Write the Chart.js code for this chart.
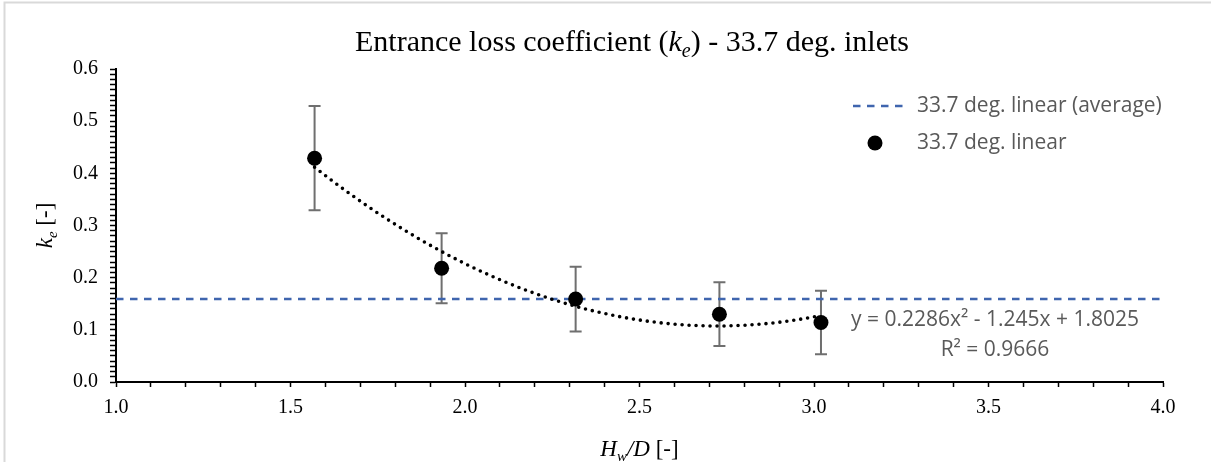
<!DOCTYPE html>
<html><head><meta charset="utf-8">
<script src="https://cdn.jsdelivr.net/npm/chart.js@4.4.1/dist/chart.umd.min.js"></script>
<style>html,body{margin:0;padding:0;background:#fff;}canvas{display:block}</style>
</head><body>
<canvas id="c" width="1211" height="462"></canvas>
<script>
// ---- data ----
const hwD   = [1.569, 1.933, 2.317, 2.729, 3.020];     // H_w/D
const ke    = [0.429, 0.218, 0.159, 0.130, 0.114];     // k_e
const keErr = [0.100, 0.067, 0.062, 0.061, 0.061];     // +/- error
const avgKe = 0.159;                                   // average line value
const avgX  = [1.0, 4.0];                              // span of average line
const fitCoef = [0.2286, -1.245, 1.8025];              // trendline y = a x^2 + b x + c (as printed)
const fitR2 = '0.9666';
const xLabelTicks = [1.0, 1.5, 2.0, 2.5, 3.0, 3.5, 4.0];
const yLabelTicks = [0.0, 0.1, 0.2, 0.3, 0.4, 0.5, 0.6];
const seriesAvgLabel = '33.7 deg. linear (average)';
const seriesLabel = '33.7 deg. linear';

const SERIF = "'Liberation Serif','Times New Roman',serif";
const SANS = "'Open Sans','Noto Sans',sans-serif";
const GREY_TXT = '#595959';

// trendline from the printed equation, over the data range
const fitPts = [];
{
  const n = 60, x0 = hwD[0], x1 = hwD[hwD.length - 1];
  for (let i = 0; i <= n; i++) {
    const x = x0 + (x1 - x0) * i / n;
    fitPts.push({x, y: fitCoef[0] * x * x + fitCoef[1] * x + fitCoef[2]});
  }
}

function isIn(list, v) { return list.some(t => Math.abs(t - v) < 1e-6); }

function drawRuns(ctx, runs, cx, baseline) {
  let total = 0;
  runs.forEach(r => { ctx.font = r.font; r.w = ctx.measureText(r.t).width; total += r.w; });
  let x = cx - total / 2;
  ctx.textBaseline = 'alphabetic';
  ctx.textAlign = 'left';
  runs.forEach(r => { ctx.font = r.font; ctx.fillText(r.t, x, baseline + (r.dy || 0)); x += r.w; });
}

const decor = {
  id: 'decor',
  beforeDraw(chart) {
    const ctx = chart.ctx;
    ctx.save();
    ctx.fillStyle = '#fff';
    ctx.fillRect(0, 0, chart.width, chart.height);
    ctx.strokeStyle = '#d9d9d9';
    ctx.lineWidth = 2;
    ctx.strokeRect(4.5, 2.5, 1400, 700);
    ctx.restore();
  },
  beforeDatasetsDraw(chart) {
    const ctx = chart.ctx, xs = chart.scales.x, ys = chart.scales.y;
    ctx.save();
    ctx.strokeStyle = '#6f6f6f';
    ctx.lineWidth = 2;
    for (let i = 0; i < hwD.length; i++) {
      const px = xs.getPixelForValue(hwD[i]);
      const pt = ys.getPixelForValue(ke[i] + keErr[i]);
      const pb = ys.getPixelForValue(ke[i] - keErr[i]);
      ctx.beginPath();
      ctx.moveTo(px, pt); ctx.lineTo(px, pb);
      ctx.moveTo(px - 6, pt); ctx.lineTo(px + 6, pt);
      ctx.moveTo(px - 6, pb); ctx.lineTo(px + 6, pb);
      ctx.stroke();
    }
    ctx.restore();
  },
  afterDraw(chart) {
    const ctx = chart.ctx, ca = chart.chartArea;
    ctx.save();
    ctx.fillStyle = '#000';
    // title
    drawRuns(ctx, [
      {t: 'Entrance loss coefficient (', font: `30px ${SERIF}`},
      {t: 'k', font: `italic 30px ${SERIF}`},
      {t: 'e', font: `italic 20px ${SERIF}`, dy: 6},
      {t: ') - 33.7 deg. inlets', font: `30px ${SERIF}`}
    ], 632, 51);
    // x axis title
    drawRuns(ctx, [
      {t: 'H', font: `italic 23px ${SERIF}`},
      {t: 'w', font: `italic 15px ${SERIF}`, dy: 5},
      {t: '/D', font: `italic 23px ${SERIF}`},
      {t: ' [-]', font: `23px ${SERIF}`}
    ], (ca.left + ca.right) / 2, 456);
    // y axis title
    ctx.save();
    ctx.translate(52, (ca.top + ca.bottom) / 2);
    ctx.rotate(-Math.PI / 2);
    drawRuns(ctx, [
      {t: 'k', font: `italic 23px ${SERIF}`},
      {t: 'e', font: `italic 15px ${SERIF}`, dy: 5},
      {t: ' [-]', font: `23px ${SERIF}`}
    ], 0, 0);
    ctx.restore();
    // legend
    const dsAvg = chart.data.datasets[2], dsPts = chart.data.datasets[0];
    ctx.font = `21px ${SANS}`;
    ctx.textBaseline = 'middle';
    ctx.textAlign = 'left';
    ctx.strokeStyle = dsAvg.borderColor;
    ctx.lineWidth = dsAvg.borderWidth;
    ctx.setLineDash(dsAvg.borderDash);
    ctx.beginPath(); ctx.moveTo(853, 106); ctx.lineTo(905, 106); ctx.stroke();
    ctx.setLineDash([]);
    ctx.fillStyle = GREY_TXT;
    ctx.fillText(dsAvg.label, 917, 106);
    ctx.fillStyle = '#000';
    ctx.beginPath(); ctx.arc(875, 143, dsPts.pointRadius, 0, Math.PI * 2); ctx.fill();
    ctx.fillStyle = GREY_TXT;
    ctx.fillText(dsPts.label, 917, 143);
    // trendline equation
    ctx.textAlign = 'center';
    ctx.font = `21px ${SANS}`;
    const eq = `y = ${fitCoef[0]}x² - ${Math.abs(fitCoef[1])}x + ${fitCoef[2]}`;
    ctx.fillText(eq, 995, 320);
    ctx.fillText(`R² = ${fitR2}`, 995, 350);
    ctx.restore();
  }
};

new Chart(document.getElementById('c'), {
  type: 'scatter',
  data: {
    datasets: [
      {
        label: seriesLabel,
        data: hwD.map((x, i) => ({x, y: ke[i]})),
        pointRadius: 7.5, pointHoverRadius: 7.5,
        backgroundColor: '#000', borderColor: '#000', borderWidth: 0,
        showLine: false, order: 0
      },
      {
        label: 'Poly. (' + seriesLabel + ')',
        data: fitPts,
        showLine: true, pointRadius: 0,
        borderColor: '#000', borderWidth: 3.6,
        borderDash: [0, 7], borderCapStyle: 'round',
        tension: 0, order: 1
      },
      {
        label: seriesAvgLabel,
        data: avgX.map(x => ({x, y: avgKe})),
        showLine: true, pointRadius: 0,
        borderColor: '#3F65AE', borderWidth: 2.5,
        borderDash: [7.5, 6.5], order: 2
      }
    ]
  },
  options: {
    responsive: false,
    animation: false,
    devicePixelRatio: 1,
    layout: {padding: {left: 0, right: 48, top: 69, bottom: 0}},
    plugins: {legend: {display: false}, tooltip: {enabled: false}, title: {display: false}},
    scales: {
      x: {
        type: 'linear', min: 1, max: 4,
        afterFit(s) { s.height = 80; },
        ticks: {
          stepSize: 0.1, autoSkip: false, maxRotation: 0,
          color: '#000', font: {family: SERIF, size: 20}, padding: 9,
          callback: v => isIn(xLabelTicks, v) ? v.toFixed(1) : ''
        },
        grid: {drawOnChartArea: false, drawTicks: true, tickLength: 5, tickColor: '#000', tickWidth: 1.5},
        border: {display: true, color: '#000', width: 2}
      },
      y: {
        type: 'linear', min: 0, max: 0.6,
        afterFit(s) { s.width = 116; },
        ticks: {
          stepSize: 0.01, autoSkip: false,
          color: '#000', font: {family: SERIF, size: 20}, padding: 12,
          callback: v => isIn(yLabelTicks, v) ? v.toFixed(1) : ''
        },
        grid: {drawOnChartArea: false, drawTicks: true, tickLength: 6, tickColor: '#000', tickWidth: 1.5},
        border: {display: true, color: '#000', width: 2}
      }
    }
  },
  plugins: [decor]
});
</script>
</body></html>
